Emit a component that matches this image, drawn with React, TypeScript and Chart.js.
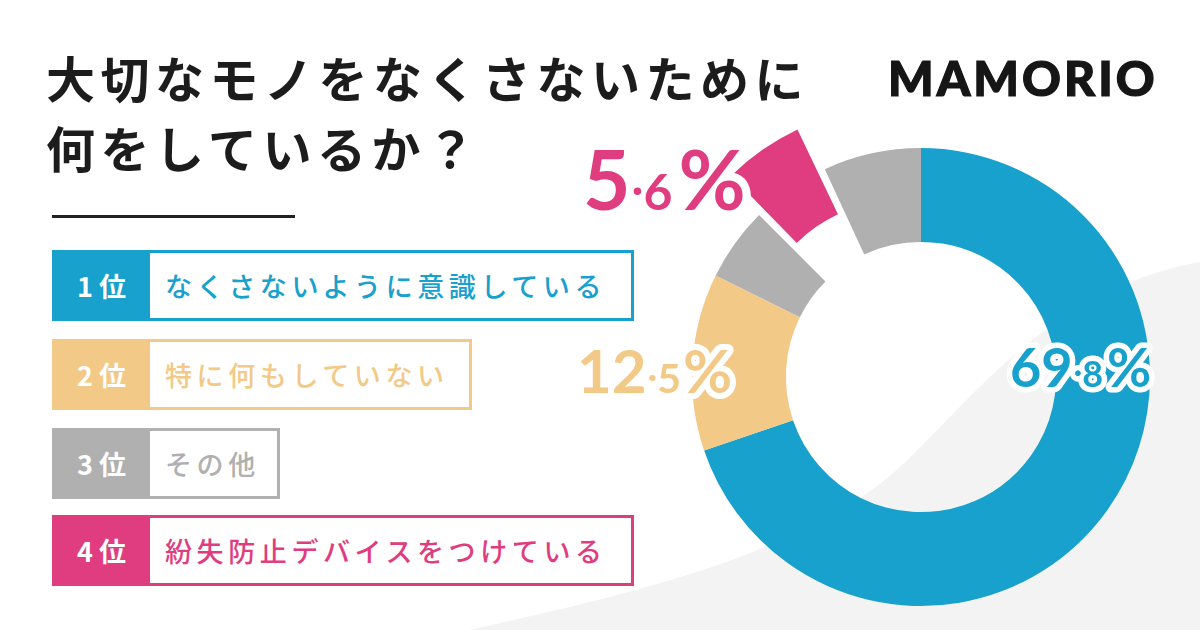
import React, { useEffect, useRef } from 'react';
import { Chart, registerables } from 'chart.js';

Chart.register(...registerables);

// ---- data ----
const segmentLabels = ['なくさないように意識している', '特に何もしていない', 'その他', '紛失防止デバイスをつけている', 'その他'];
const segmentValues = [69.8, 12.5, 5.2, 5.6, 6.9];
const segmentColors = ['#17a1cc', '#f2c987', '#b0b0b0', '#e03d80', '#b0b0b0'];
const segmentOffsets = [0, 0, 0, 116, 0];

const rankLabels = ['1位', '2位', '3位', '4位'];
const rankTexts = ['なくさないように意識している', '特に何もしていない', 'その他', '紛失防止デバイスをつけている'];
const rankColors = ['#17a1cc', '#f2c987', '#b0b0b0', '#e03d80'];

const pctValues = [69.8, 12.5, 5.6];
const pctSegments = [0, 1, 3];

const titleLines = ['大切なモノをなくさないために', '何をしているか？'];
const logoText = 'MAMORIO';

// ---- layout (not data) ----
const boxTops = [250, 339, 428, 515];
const boxWidths = [582, 420, 228, 582];
const pctLayout = [
  { dx: 89, dy: 10, big: 54, small: 36, pctGap: 4 },
  { dx: -344, dy: 16, big: 60, small: 41, pctGap: 2 },
  { dx: -338, dy: -167, big: 82, small: 50, pctGap: 6 },
];

const bgPlugin = {
  id: 'bgShape',
  beforeDraw(chart: any) {
    const ctx = chart.ctx as CanvasRenderingContext2D;
    ctx.save();
    ctx.fillStyle = '#f3f3f3';
    ctx.beginPath();
    ctx.moveTo(470, 630);
    ctx.bezierCurveTo(600, 600, 800, 560, 900, 467);
    ctx.bezierCurveTo(980, 392, 1050, 290, 1200, 262);
    ctx.lineTo(1200, 630);
    ctx.closePath();
    ctx.fill();
    ctx.restore();
  },
};

function drawPct(ctx: CanvasRenderingContext2D, value: number, x: number, y: number, big: number, small: number, pctGap: number, color: string) {
  const [ip, dp] = value.toFixed(1).split('.');
  const fam = 'Lato, "Noto Sans", sans-serif';
  const pieces = [
    { t: ip, f: big, dy: 0, gap: 1 },
    { t: '.', f: small, dy: -small * 0.3, gap: 0 },
    { t: dp, f: small, dy: 0, gap: pctGap },
    { t: '%', f: big, dy: 0, gap: 0 },
  ];
  let cur = x;
  const placed: any[] = [];
  for (const p of pieces) {
    ctx.font = `700 ${p.f}px ${fam}`;
    const w = ctx.measureText(p.t).width;
    placed.push({ ...p, x: cur });
    cur += w + p.gap;
  }
  ctx.save();
  ctx.textBaseline = 'alphabetic';
  ctx.textAlign = 'left';
  ctx.lineJoin = 'round';
  ctx.strokeStyle = '#ffffff';
  ctx.lineWidth = Math.max(11, big * 0.2);
  for (const p of placed) {
    ctx.font = `700 ${p.f}px ${fam}`;
    ctx.strokeText(p.t, p.x, y + p.dy);
  }
  ctx.fillStyle = color;
  for (const p of placed) {
    ctx.font = `700 ${p.f}px ${fam}`;
    ctx.fillText(p.t, p.x, y + p.dy);
  }
  ctx.restore();
}

const labelPlugin = {
  id: 'pctLabels',
  afterDatasetsDraw(chart: any) {
    const ctx = chart.ctx as CanvasRenderingContext2D;
    const meta = chart.getDatasetMeta(0);
    const a0 = meta.data[0] as any;
    const cx = a0.x;
    const cy = a0.y;
    pctValues.forEach((v, i) => {
      const L = pctLayout[i];
      drawPct(ctx, v, cx + L.dx, cy + L.dy, L.big, L.small, L.pctGap, segmentColors[pctSegments[i]]);
    });
  },
};

export default function App() {
  const ref = useRef<HTMLCanvasElement>(null);

  useEffect(() => {
    document.body.style.margin = '0';
    const chart = new Chart(ref.current as HTMLCanvasElement, {
      type: 'doughnut',
      data: {
        labels: segmentLabels,
        datasets: [
          {
            data: segmentValues,
            backgroundColor: segmentColors,
            borderWidth: 0,
            offset: segmentOffsets,
            hoverOffset: 0,
            radius: 229,
            cutout: '59%',
          } as any,
        ],
      },
      options: {
        responsive: false,
        maintainAspectRatio: false,
        animation: false,
        events: [],
        layout: { padding: { left: 642, top: 124, right: 0, bottom: 0 } },
        plugins: { legend: { display: false }, tooltip: { enabled: false } },
      } as any,
      plugins: [bgPlugin, labelPlugin],
    });
    return () => chart.destroy();
  }, []);

  const jp = '"Noto Sans CJK JP", "Noto Sans", sans-serif';

  return (
    <div style={{ position: 'absolute', left: 0, top: 0, width: 1200, height: 630, overflow: 'hidden', background: '#ffffff' }}>
      <canvas ref={ref} width={1200} height={630} style={{ position: 'absolute', left: 0, top: 0, width: 1200, height: 630 }} />
      <div style={{ position: 'absolute', left: 46, top: 42, fontFamily: jp, fontWeight: 700, fontSize: 49, letterSpacing: 5.5, lineHeight: '70px', color: '#1c1c1c', whiteSpace: 'nowrap' }}>
        {titleLines.map((t, i) => (
          <div key={i}>{t}</div>
        ))}
      </div>
      <div style={{ position: 'absolute', left: 52, top: 215, width: 243, height: 3, background: '#222' }} />
      <div style={{ position: 'absolute', left: 888, top: 54, fontFamily: 'Lato, sans-serif', fontWeight: 900, fontSize: 48, lineHeight: '48px', letterSpacing: 3, color: '#161616', whiteSpace: 'nowrap', WebkitTextStroke: '1.2px #161616' }}>
        {logoText}
      </div>
      {rankLabels.map((r, i) => (
        <div
          key={i}
          style={{
            position: 'absolute',
            left: 52,
            top: boxTops[i],
            width: boxWidths[i],
            height: 71,
            boxSizing: 'border-box',
            border: `3px solid ${rankColors[i]}`,
            background: '#ffffff',
            display: 'flex',
            alignItems: 'stretch',
            fontFamily: jp,
          }}
        >
          <div style={{ width: 91, background: rankColors[i], color: '#fff', fontWeight: 700, fontSize: 27, letterSpacing: 6, display: 'flex', alignItems: 'center', justifyContent: 'center', paddingLeft: 4 }}>
            {r}
          </div>
          <div style={{ paddingLeft: 15, color: rankColors[i], fontWeight: 500, fontSize: 27, letterSpacing: 4.6, display: 'flex', alignItems: 'center', whiteSpace: 'nowrap' }}>
            {rankTexts[i]}
          </div>
        </div>
      ))}
    </div>
  );
}
